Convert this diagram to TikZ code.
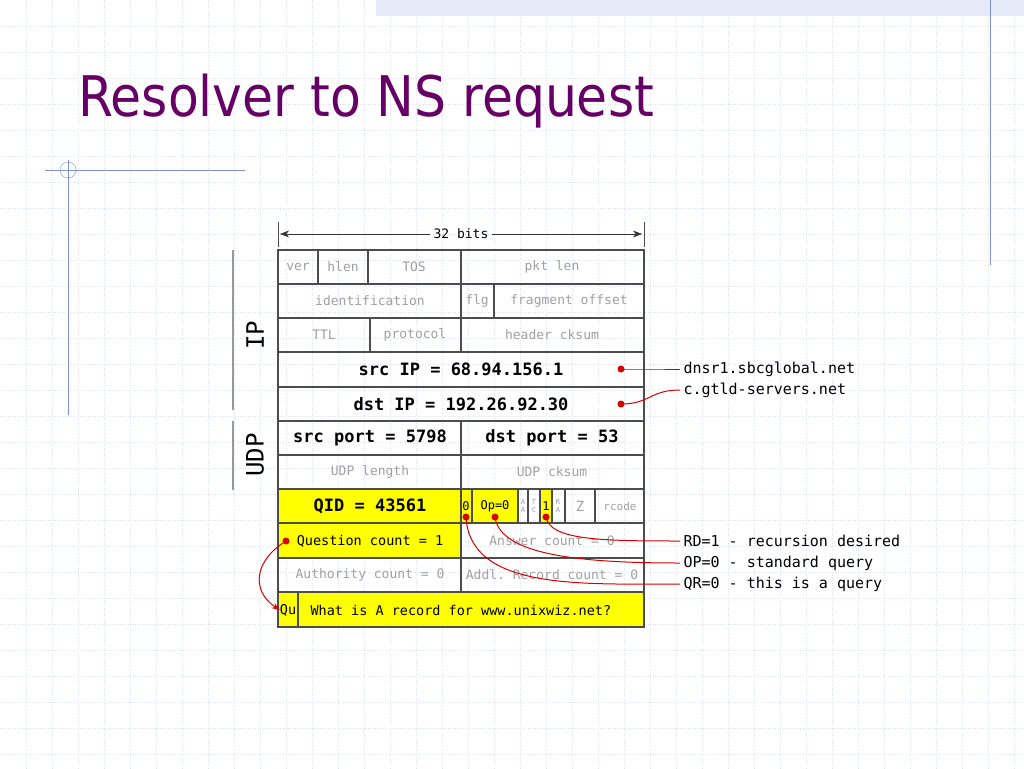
\documentclass[tikz,border=0pt]{standalone}
\usepackage{fontspec}
\setmainfont{DejaVu Sans}
\newfontfamily\titlef{DejaVu Sans Condensed}
\setmonofont{DejaVu Sans Mono}
\usetikzlibrary{arrows.meta}
\definecolor{ttl}{HTML}{660066}
\definecolor{gridc}{HTML}{DDE3F0}
\definecolor{band}{HTML}{E4EAF8}
\definecolor{acc}{HTML}{7F8FE0}
\definecolor{yel}{HTML}{FFFF00}
\definecolor{gtxt}{HTML}{A0A0A0}
\tikzset{
 cell/.style={draw=black!70,line width=1.6pt},
 ycell/.style={cell,fill=yel},
 gt/.style={font=\ttfamily\fontsize{13}{15}\selectfont,text=gtxt},
 bt/.style={font=\ttfamily\bfseries\fontsize{17}{19}\selectfont},
 yt/.style={font=\ttfamily\fontsize{13.5}{15}\selectfont},
 lt/.style={font=\ttfamily\fontsize{15}{17}\selectfont,anchor=west},
 rl/.style={red!85!black,line width=1pt},
 dot/.style={circle,fill=red!85!black,inner sep=0pt,minimum size=7pt},
}
\begin{document}
\begin{tikzpicture}[x=1pt,y=-1pt]
\useasboundingbox (0,0) rectangle (1024,768);
\fill[white] (0,0) rectangle (1024,768);
\foreach \x in {26,52,...,1024} \draw[gridc,dotted,line width=0.5pt] (\x,0)--(\x,768);
\foreach \y in {26,52,...,768} \draw[gridc,dotted,line width=0.5pt] (0,\y)--(1024,\y);
\fill[band] (376,0) rectangle (1024,16);
\draw[acc] (990,0)--(990,265);
\draw[acc] (68,160)--(68,415);
\draw[acc] (45,170)--(245,170);
\draw[acc] (68,170) circle (8);
\node[anchor=west,text=ttl,font=\titlef\fontsize{56}{62}\selectfont,inner sep=0pt] (title) at (78,101) {Resolver to NS request};
% 32 bits
\draw[black!70] (278,222)--(278,247) (644,222)--(644,247);
\node[font=\ttfamily\fontsize{13}{15}\selectfont] (bits) at (461,234) {32 bits};
\draw[-{Stealth[length=9pt]},black!80] (bits.west)--(280,234);
\draw[-{Stealth[length=9pt]},black!80] (bits.east)--(642,234);
% side labels
\draw[black!40,line width=1.5pt] (233,250)--(233,410) (233,421)--(233,490);
\node[rotate=90,font=\ttfamily\fontsize{24}{26}\selectfont] (ip) at (255,335) {IP};
\node[rotate=90,font=\ttfamily\fontsize{24}{26}\selectfont] (udp) at (255,455) {UDP};
% rows
\draw[cell] (278,250) rectangle (318,284); \node[gt] (ver) at (298,267) {ver};
\draw[cell] (318,250) rectangle (368,284); \node[gt] (hlen) at (343,267) {hlen};
\draw[cell] (368,250) rectangle (461,284); \node[gt] (tos) at (414,267) {TOS};
\draw[cell] (461,250) rectangle (644,284); \node[gt] (plen) at (552,267) {pkt len};
\draw[cell] (278,284) rectangle (461,318); \node[gt] (ident) at (370,301) {identification};
\draw[cell] (461,284) rectangle (494,318); \node[gt] (flg) at (477,301) {flg};
\draw[cell] (494,284) rectangle (644,318); \node[gt] (frag) at (569,301) {fragment offset};
\draw[cell] (278,318) rectangle (370,352); \node[gt] (ttlc) at (324,335) {TTL};
\draw[cell] (370,318) rectangle (461,352); \node[gt] (proto) at (415,335) {protocol};
\draw[cell] (461,318) rectangle (644,352); \node[gt] (hck) at (552,335) {header cksum};
\draw[cell] (278,352) rectangle (644,387); \node[bt] (src) at (461,369) {src IP = 68.94.156.1};
\draw[cell] (278,387) rectangle (644,421); \node[bt] (dst) at (461,404) {dst IP = 192.26.92.30};
\draw[cell] (278,421) rectangle (461,455); \node[bt] (sp) at (370,438) {src port = 5798};
\draw[cell] (461,421) rectangle (644,455); \node[bt] (dp) at (552,438) {dst port = 53};
\draw[cell] (278,455) rectangle (461,489); \node[gt] (ul) at (370,472) {UDP length};
\draw[cell] (461,455) rectangle (644,489); \node[gt] (uc) at (552,472) {UDP cksum};
\draw[ycell] (278,489) rectangle (461,523); \node[bt] (qid) at (370,506) {QID = 43561};
\draw[ycell] (461,489) rectangle (472,523); \node[yt,font=\ttfamily\fontsize{12}{13}\selectfont,inner sep=0pt] (qr) at (466,506) {0};
\draw[ycell] (472,489) rectangle (518,523); \node[yt,font=\ttfamily\fontsize{12}{13}\selectfont,inner sep=0pt] (op) at (495,506) {Op=0};
\draw[cell] (518,489) rectangle (528,523); \node[gt,font=\ttfamily\fontsize{7}{8}\selectfont,align=center,inner sep=0pt] (aa) at (523,506) {A\\A};
\draw[cell] (528,489) rectangle (540,523); \node[gt,font=\ttfamily\fontsize{7}{8}\selectfont,align=center,inner sep=0pt] (tc) at (534,506) {T\\C};
\draw[ycell] (540,489) rectangle (552,523); \node[yt,font=\ttfamily\fontsize{12}{13}\selectfont,inner sep=0pt] (rd) at (546,506) {1};
\draw[cell] (552,489) rectangle (565,523); \node[gt,font=\ttfamily\fontsize{7}{8}\selectfont,align=center,inner sep=0pt] (ra) at (558,506) {R\\A};
\draw[cell] (565,489) rectangle (595,523); \node[gt,font=\ttfamily\fontsize{14}{15}\selectfont] (z) at (580,506) {Z};
\draw[cell] (595,489) rectangle (644,523); \node[gt,font=\ttfamily\fontsize{11}{12}\selectfont,inner sep=0pt] (rcode) at (620,506) {rcode};
\draw[ycell] (278,523) rectangle (461,558); \node[yt] (qc) at (370,541) {Question count = 1};
\draw[cell] (461,523) rectangle (644,558); \node[gt] (ac) at (552,541) {Answer count = 0};
\draw[cell] (278,558) rectangle (461,592); \node[gt] (auc) at (370,575) {Authority count = 0};
\draw[cell] (461,558) rectangle (644,592); \node[gt] (adc) at (552,575) {Addl. Record count = 0};
\draw[ycell] (278,592) rectangle (298,627); \node[yt,inner sep=0pt] (qu) at (288,610) {Qu};
\draw[ycell] (298,592) rectangle (644,627); \node[yt,anchor=west] (qq) at (307,610) {What is A record for www.unixwiz.net?};
% callouts
\node[lt] (t1) at (680,369) {dnsr1.sbcglobal.net};
\node[lt] (t2) at (680,390) {c.gtld-servers.net};
\node[lt] (t3) at (680,541) {RD=1 - recursion desired};
\node[lt] (t4) at (680,563) {OP=0 - standard query};
\node[lt] (t5) at (680,584) {QR=0 - this is a query};
\node[dot] (d1) at (621,369) {};
\node[dot] (d2) at (621,404) {};
\node[dot] (d3) at (546,517) {};
\node[dot] (d4) at (495,517) {};
\node[dot] (d5) at (466,517) {};
\node[dot] (d6) at (286,541) {};
\draw[rl] (d1.center) -- (650,369) .. controls (665,369) and (665,369) .. (t1.west);
\draw[rl] (d2.center) .. controls (650,404) and (650,390) .. (t2.west);
\draw[rl] (d3.center) .. controls (550,540) and (600,541) .. (t3.west);
\draw[rl] (d4.center) .. controls (500,555) and (580,563) .. (t4.west);
\draw[rl] (d5.center) .. controls (470,590) and (580,584) .. (t5.west);
\draw[rl,-{Stealth[length=8pt]}] (d6.center) .. controls (255,560) and (250,590) .. (qu.west);
\end{tikzpicture}
\end{document}
